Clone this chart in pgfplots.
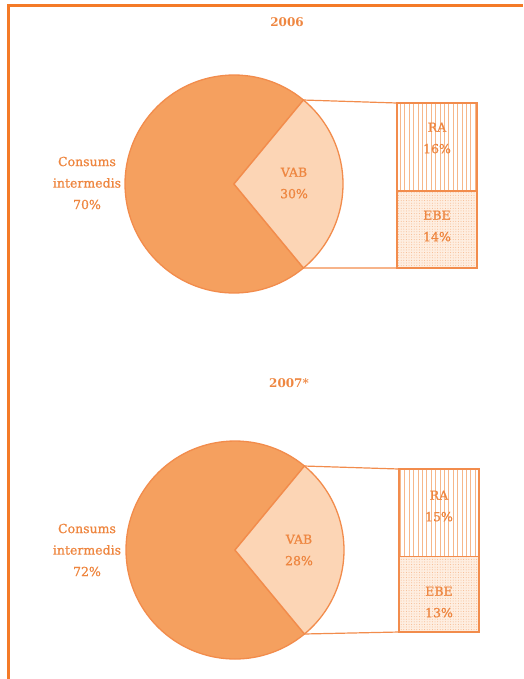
\documentclass[border=0pt]{standalone}
\usepackage{pgfplots}
\pgfplotsset{compat=1.18}
\usetikzlibrary{patterns.meta}
\usepackage{fontspec}
\setmainfont{DejaVu Serif}
\newfontfamily\lblfont[FakeBold=0.9]{DejaVu Serif}
\definecolor{frame}{HTML}{F47A28}
\definecolor{edge}{HTML}{F28C4C}
\definecolor{ci}{HTML}{F5A05F}
\definecolor{vab}{HTML}{FCD5B5}
\definecolor{txt}{HTML}{EE8640}
\definecolor{hatch}{HTML}{F6B78A}
\definecolor{dotbg}{HTML}{FEEEE1}

% values (%): consums intermedis, VAB, RA, EBE
\def\ciA{70}\def\vabA{30}\def\raA{16}\def\ebeA{14}
\def\ciB{72}\def\vabB{28}\def\raB{15}\def\ebeB{13}
\def\R{109}

\pgfplotsset{
  boxax/.style={scale only axis, width=80pt, height=165pt, anchor=south west,
    xmin=-0.5, xmax=0.5, ymin=0, ymax=#1, ybar stacked, bar width=1,
    hide axis, clip=false},
  ebebar/.style={draw=edge, line width=1.3pt, fill=dotbg,
    postaction={pattern={Dots[distance=2.6pt, radius=0.5pt, xshift=0.8pt]}, pattern color=hatch}},
  rabar/.style={draw=edge, line width=1.3pt, fill=white,
    postaction={pattern={Lines[angle=90, distance=4.4pt, line width=0.8pt]}, pattern color=hatch}},
}
\tikzset{lbl/.style={text=txt, align=center, font=\lblfont\fontsize{12.5}{21.5}\selectfont}}

\begin{document}
\begin{tikzpicture}
\begin{axis}[name=main, at={(0,0)}, anchor=north west, scale only axis,
  width=523pt, height=679pt, xmin=0, xmax=523, ymin=0, ymax=679,
  y dir=reverse, hide axis, clip=false]
  % frame
  \draw[frame, line width=3pt] (axis cs:8,679) -- (axis cs:8,5) -- (axis cs:523,5);
  % titles
  \node[text=txt, font=\bfseries\fontsize{12}{13}\selectfont] at (axis cs:287,22) {2006};
  \node[text=txt, font=\bfseries\fontsize{12}{13}\selectfont] at (axis cs:289,383) {2007*};

  % pie 2006
  \pgfmathsetmacro\h{\vabA*1.8}
  \filldraw[fill=ci, draw=edge, line width=1.3pt] (axis cs:234,184) -- ++(\h:\R pt)
    arc[start angle=\h, end angle=360-\h, radius=\R pt] -- cycle;
  \filldraw[fill=vab, draw=edge, line width=1.3pt] (axis cs:234,184) -- ++(-\h:\R pt)
    arc[start angle=-\h, end angle=\h, radius=\R pt] -- cycle;
  \draw[edge, line width=1.2pt] (axis cs:234,184) ++(\h:\R pt) -- (axis cs:397,103);
  \draw[edge, line width=1.2pt] (axis cs:234,184) ++(-\h:\R pt) -- (axis cs:397,268);
  \node[lbl] at (axis cs:87,183) {Consums\\intermedis\\\ciA\%};
  \node[lbl] at (axis cs:294,183) {VAB\\\vabA\%};

  % pie 2007
  \pgfmathsetmacro\h{\vabB*1.8}
  \filldraw[fill=ci, draw=edge, line width=1.3pt] (axis cs:235,550) -- ++(\h:\R pt)
    arc[start angle=\h, end angle=360-\h, radius=\R pt] -- cycle;
  \filldraw[fill=vab, draw=edge, line width=1.3pt] (axis cs:235,550) -- ++(-\h:\R pt)
    arc[start angle=-\h, end angle=\h, radius=\R pt] -- cycle;
  \draw[edge, line width=1.2pt] (axis cs:235,550) ++(\h:\R pt) -- (axis cs:399,469);
  \draw[edge, line width=1.2pt] (axis cs:235,550) ++(-\h:\R pt) -- (axis cs:399,632);
  \node[lbl] at (axis cs:87,550) {Consums\\intermedis\\\ciB\%};
  \node[lbl] at (axis cs:299,550) {VAB\\\vabB\%};
\end{axis}

% bar 2006
\begin{axis}[boxax=\vabA, at={(397pt,-268pt)}]
  \addplot[ebebar] coordinates {(0,\ebeA)};
  \addplot[rabar] coordinates {(0,\raA)};
\end{axis}
\node[lbl] at (437pt,-226pt) {EBE\\\ebeA\%};
\node[lbl] at (437pt,-138pt) {RA\\\raA\%};

% bar 2007
\begin{axis}[boxax=\vabB, at={(399pt,-632pt)}, width=80pt, height=163pt]
  \addplot[ebebar] coordinates {(0,\ebeB)};
  \addplot[rabar] coordinates {(0,\raB)};
\end{axis}
\node[lbl] at (439pt,-602pt) {EBE\\\ebeB\%};
\node[lbl] at (439pt,-506pt) {RA\\\raB\%};

\pgfresetboundingbox
\useasboundingbox (0,0) rectangle (523pt,-679pt);
\end{tikzpicture}
\end{document}
